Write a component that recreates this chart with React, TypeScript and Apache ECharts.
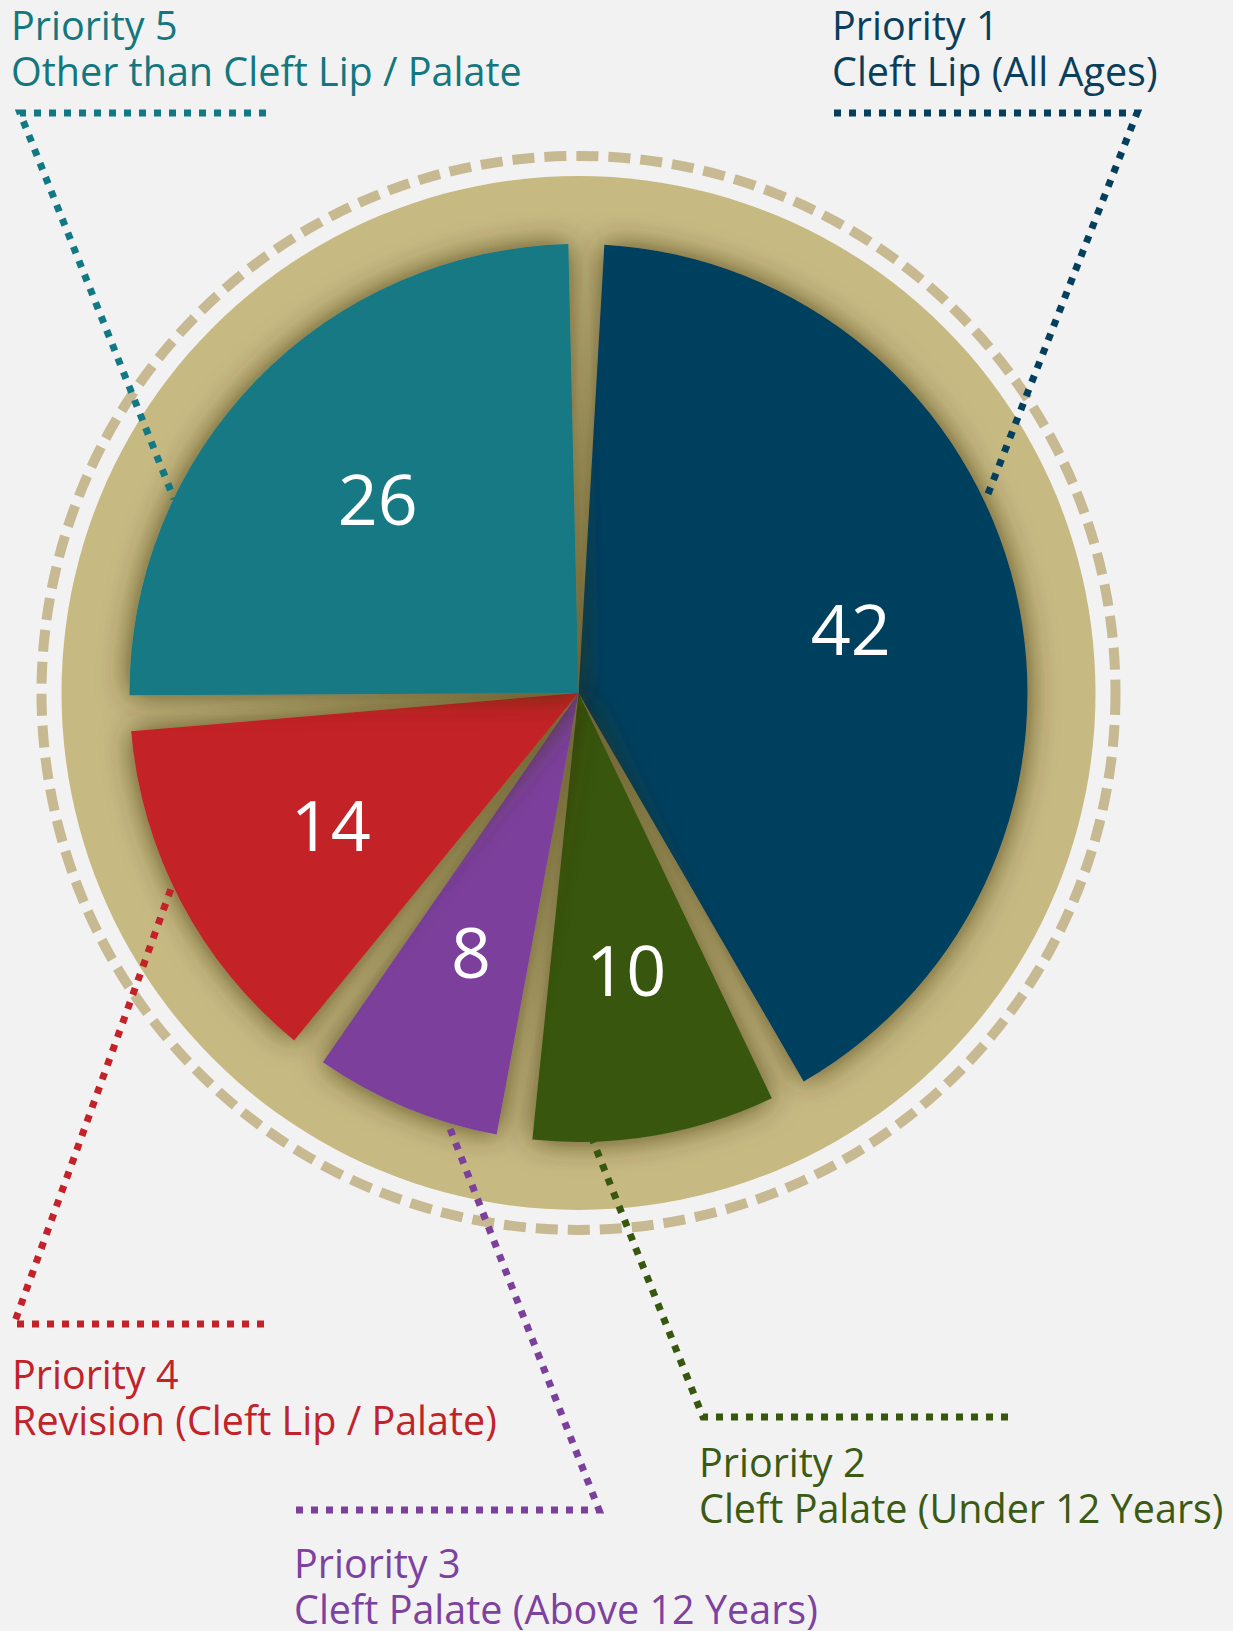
import { useEffect, useRef } from 'react';
import * as echarts from 'echarts';

// ---- data ----
const categories = ['Priority 1', 'Priority 2', 'Priority 3', 'Priority 4', 'Priority 5'];
const descriptions = [
  'Cleft Lip (All Ages)',
  'Cleft Palate (Under 12 Years)',
  'Cleft Palate (Above 12 Years)',
  'Revision (Cleft Lip / Palate)',
  'Other than Cleft Lip / Palate',
];
const values = [42, 10, 8, 14, 26];

// ---- styles ----
const sliceColors = ['#043f5e', '#37570f', '#7b409c', '#c32228', '#127984'];
const labelColors = ['#0a3f5c', '#3b5a14', '#7d41a0', '#c1232b', '#12777f'];

// ---- layout ----
const W = 1233;
const H = 1631;
const CX = 578.5;
const CY = 693;
const PIE_R = 449;
const DISC_R = 517;
const RING_R = 537;
const FONT = '"Open Sans", "Noto Sans", sans-serif';
const FS = 39.5;
const LH = 46;

// [x, baseline of first line]
const textPos = [
  [832, 40],
  [699, 1477],
  [294, 1578],
  [12, 1389],
  [11, 40],
];
const leaderPts = [
  [[834, 113], [1137, 113], [986, 499]],
  [[1008, 1417], [703, 1417], [593, 1141]],
  [[296, 1510], [599, 1510], [449, 1126]],
  [[264, 1324], [14, 1324], [172, 886]],
  [[266, 113], [20, 113], [174, 499]],
];

export default function App() {
  const ref = useRef<HTMLDivElement>(null);
  useEffect(() => {
    if (!ref.current) return;
    const chart = echarts.init(ref.current, null, { renderer: 'svg' });
    const graphics: any[] = [
      {
        type: 'circle',
        shape: { cx: CX, cy: CY, r: DISC_R },
        style: { fill: '#c7b982' },
        z: 0,
        silent: true,
      },
      {
        type: 'circle',
        shape: { cx: CX, cy: CY, r: RING_R },
        style: { fill: 'none', stroke: '#c7b992', lineWidth: 10, lineDash: [22, 10] },
        z: 0,
        silent: true,
      },
    ];
    categories.forEach((c, i) => {
      const [x, b1] = textPos[i];
      graphics.push({
        type: 'polyline',
        shape: { points: leaderPts[i] },
        style: { stroke: sliceColors[i], lineWidth: 7, lineDash: [7, 8], fill: 'none' },
        z: 10,
        silent: true,
      });
      graphics.push({
        type: 'text',
        x,
        y: b1 - 0.38 * FS - LH / 2,
        style: {
          text: c + '\n' + descriptions[i],
          fill: labelColors[i],
          font: `${FS}px ${FONT}`,
          lineHeight: LH,
          textAlign: 'left',
          textVerticalAlign: 'top',
        },
        z: 10,
      });
    });

    const pieData = values.map((v, i) => ({
      value: v,
      name: categories[i],
      itemStyle: { color: sliceColors[i] },
    }));

    chart.setOption({
      animation: false,
      backgroundColor: '#f2f2f2',
      graphic: { elements: graphics },
      series: [
        {
          type: 'pie',
          center: [CX, CY],
          radius: [0, PIE_R],
          startAngle: 89,
          padAngle: 4.6,
          clockwise: true,
          silent: true,
          z: 2,
          label: { show: false },
          labelLine: { show: false },
          itemStyle: { shadowBlur: 30, shadowColor: 'rgba(55,45,15,0.8)' },
          data: pieData,
        },
        {
          type: 'pie',
          center: [CX, CY],
          radius: [105, PIE_R],
          startAngle: 89,
          padAngle: 4.6,
          clockwise: true,
          silent: true,
          z: 3,
          itemStyle: { color: 'rgba(0,0,0,0)' },
          labelLine: { show: false },
          label: {
            show: true,
            position: 'inside',
            formatter: '{c}',
            color: '#ffffff',
            fontSize: 70,
            fontFamily: FONT,
            textBorderWidth: 0,
          },
          data: values.map((v, i) => ({ value: v, name: categories[i] })),
        },
      ],
    });
    return () => chart.dispose();
  }, []);
  return (
    <div
      ref={ref}
      style={{ position: 'absolute', left: 0, top: 0, width: W, height: H }}
    />
  );
}
